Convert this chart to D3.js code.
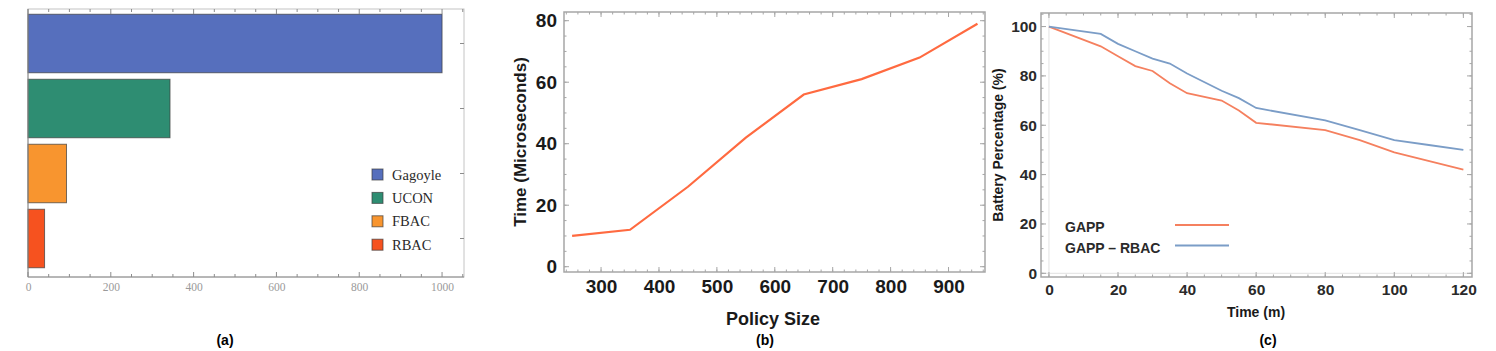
<!DOCTYPE html>
<html>
<head>
<meta charset="utf-8">
<script src="https://cdn.jsdelivr.net/npm/d3@7"></script>
<style>
  body { margin: 0; background: #fff; }
  svg { display: block; }
</style>
</head>
<body>
<div id="vizArea"></div>
<script>
var w = 1496
var h = 351

// DATA ********************************
// (a) cost comparison
var schemes = ["Gagoyle", "UCON", "FBAC", "RBAC"]
var schemeValues = [1000, 343, 93, 40]
var schemeColors = ["#566fbd", "#2e8d72", "#f8952f", "#f6521f"]
var costTicks = [0, 200, 400, 600, 800, 1000]

// (b) policy size vs time
var policySize = [250, 350, 450, 550, 650, 750, 850, 950]
var policyTime = [10, 12, 26, 42, 56, 61, 68, 79]
var policyTicks = [300, 400, 500, 600, 700, 800, 900]
var timeTicks = [0, 20, 40, 60, 80]

// (c) battery over time
var gappTime = [0, 15, 20, 25, 30, 35, 40, 50, 55, 60, 80, 90, 100, 120]
var gappBattery = [100, 92, 88, 84, 82, 77, 73, 70, 66, 61, 58, 54, 49, 42]
var rbacTime = [0, 15, 20, 25, 30, 35, 40, 50, 55, 60, 80, 90, 100, 110, 120]
var rbacBattery = [100, 97, 93, 90, 87, 85, 81, 74, 71, 67, 62, 58, 54, 52, 50]
var minuteTicks = [0, 20, 40, 60, 80, 100, 120]
var batteryTicks = [0, 20, 40, 60, 80, 100]

var svg = d3.select("#vizArea").append("svg")
    .attr("width", w)
    .attr("height", h)

var frameColor = "#a6a6a6"
var boldFont = "'Liberation Sans', Arial, sans-serif"

// draws mathematica-like ticks on all four sides of a frame
function frameTicks(g, x, y, xMajor, xMinorStep, yMajor, yMinorStep, box) {
    var xd = x.domain(), yd = y.domain()
    var xMinor = d3.range(Math.ceil(xd[0] / xMinorStep) * xMinorStep, xd[1], xMinorStep)
    var yMinor = d3.range(Math.ceil(yd[0] / yMinorStep) * yMinorStep, yd[1], yMinorStep)
    var marks = []
    xMinor.forEach(function(v){ marks.push({ax: "x", v: v, len: 2.5}) })
    xMajor.forEach(function(v){ marks.push({ax: "x", v: v, len: 5}) })
    yMinor.forEach(function(v){ marks.push({ax: "y", v: v, len: 2.5}) })
    yMajor.forEach(function(v){ marks.push({ax: "y", v: v, len: 5}) })
    marks.forEach(function(m){
        if (m.ax == "x") {
            var px = x(m.v)
            g.append("line").attr("x1", px).attr("x2", px)
                .attr("y1", box.bottom).attr("y2", box.bottom - m.len)
            g.append("line").attr("x1", px).attr("x2", px)
                .attr("y1", box.top).attr("y2", box.top + m.len)
        } else {
            var py = y(m.v)
            g.append("line").attr("y1", py).attr("y2", py)
                .attr("x1", box.left).attr("x2", box.left + m.len)
            g.append("line").attr("y1", py).attr("y2", py)
                .attr("x1", box.right).attr("x2", box.right - m.len)
        }
    })
    g.selectAll("line").attr("stroke", frameColor).attr("stroke-width", 1)
}

// PANEL (a) *********************************
var boxA = {left: 28, right: 464, top: 9, bottom: 277}
var xA = d3.scaleLinear().domain([0, 1053]).range([boxA.left, boxA.right])
var yA = d3.scaleBand().domain(schemes).range([11, 271]).paddingInner(0.1).paddingOuter(0.05)
var gA = svg.append("g")

gA.append("rect")
    .attr("x", boxA.left).attr("y", boxA.top)
    .attr("width", boxA.right - boxA.left).attr("height", boxA.bottom - boxA.top)
    .attr("fill", "none").attr("stroke", "#c4c4c4")

gA.selectAll(".bar")
    .data(schemes)
    .enter()
    .append("rect")
    .attr("class", "bar")
    .attr("x", xA(0))
    .attr("y", function(d){ return yA(d) })
    .attr("width", function(d, i){ return xA(schemeValues[i]) - xA(0) })
    .attr("height", yA.bandwidth())
    .attr("fill", function(d, i){ return schemeColors[i] })
    .attr("stroke", "#3c3c3c")
    .attr("stroke-opacity", 0.7)
    .attr("stroke-width", 1)

// tick marks for (a)
var tA = gA.append("g")
d3.range(0, 1051, 50).forEach(function(v){
    var len = (v % 200 == 0) ? 5 : 3
    tA.append("line").attr("x1", xA(v)).attr("x2", xA(v))
        .attr("y1", boxA.bottom).attr("y2", boxA.bottom - len)
    tA.append("line").attr("x1", xA(v)).attr("x2", xA(v))
        .attr("y1", boxA.top).attr("y2", boxA.top + len)
})
schemes.forEach(function(d){
    var py = yA(d) + yA.bandwidth() / 2
    tA.append("line").attr("y1", py).attr("y2", py)
        .attr("x1", boxA.right).attr("x2", boxA.right - 4)
})
tA.selectAll("line").attr("stroke", "#8c8c8c")

gA.append("line")
    .attr("x1", boxA.left).attr("x2", boxA.right)
    .attr("y1", boxA.bottom).attr("y2", boxA.bottom)
    .attr("stroke", "#8c8c8c")
gA.append("line")
    .attr("x1", boxA.left).attr("x2", boxA.left)
    .attr("y1", boxA.top).attr("y2", boxA.bottom)
    .attr("stroke", "#8c8c8c")

var axA = gA.append("g")
    .attr("transform", "translate(0," + boxA.bottom + ")")
    .call(d3.axisBottom(xA).tickValues(costTicks).tickFormat(d3.format("d")).tickSize(0).tickPadding(6))
axA.select(".domain").remove()
axA.selectAll("text")
    .style("font-family", "'Liberation Serif', 'DejaVu Serif', serif")
    .style("font-size", "11.5px")
    .attr("fill", "#9a9a9a")

// legend (a)
var legA = gA.selectAll(".legA")
    .data(schemes)
    .enter()
    .append("g")
    .attr("transform", function(d, i){ return "translate(372," + (169 + i * 23.4) + ")" })
legA.append("rect")
    .attr("width", 11).attr("height", 11)
    .attr("fill", function(d, i){ return schemeColors[i] })
    .attr("stroke", "#3c3c3c").attr("stroke-opacity", 0.7)
legA.append("text")
    .attr("x", 20).attr("y", 10.5)
    .text(function(d){ return d })
    .style("font-family", "'Liberation Serif', 'DejaVu Serif', serif")
    .style("font-size", "14.5px")
    .attr("fill", "#2a2a2a")

svg.append("text").attr("x", 225).attr("y", 345)
    .attr("text-anchor", "middle")
    .style("font-family", boldFont).style("font-weight", "bold").style("font-size", "14px")
    .text("(a)")

// PANEL (b) *********************************
var boxB = {left: 564, right: 985, top: 12, bottom: 272}
var xB = d3.scaleLinear().domain([236, 963]).range([boxB.left, boxB.right])
var yB = d3.scaleLinear().domain([-1.72, 82.83]).range([boxB.bottom, boxB.top])
var gB = svg.append("g")

gB.append("rect")
    .attr("x", boxB.left).attr("y", boxB.top)
    .attr("width", boxB.right - boxB.left).attr("height", boxB.bottom - boxB.top)
    .attr("fill", "none").attr("stroke", frameColor).attr("stroke-width", 1.5)
frameTicks(gB.append("g"), xB, yB, policyTicks, 20, timeTicks, 5, boxB)

var axBx = gB.append("g")
    .attr("transform", "translate(0," + boxB.bottom + ")")
    .call(d3.axisBottom(xB).tickValues(policyTicks).tickSize(0).tickPadding(8))
var axBy = gB.append("g")
    .attr("transform", "translate(" + boxB.left + ",0)")
    .call(d3.axisLeft(yB).tickValues(timeTicks).tickSize(0).tickPadding(7))
gB.selectAll(".domain").remove()
gB.selectAll(".tick text")
    .style("font-family", boldFont).style("font-weight", "bold")
    .style("font-size", "19px").attr("fill", "#1a1a1a")

var policyLine = d3.line()
    .x(function(d){ return xB(d[0]) })
    .y(function(d){ return yB(d[1]) })
gB.append("path")
    .datum(d3.zip(policySize, policyTime))
    .attr("d", policyLine)
    .attr("fill", "none")
    .attr("stroke", "#ff6a40")
    .attr("stroke-width", 2.2)

gB.append("text")
    .attr("transform", "translate(526,142) rotate(-90)")
    .attr("text-anchor", "middle")
    .style("font-family", boldFont).style("font-weight", "bold").style("font-size", "17px")
    .attr("fill", "#1a1a1a")
    .text("Time (Microseconds)")
gB.append("text").attr("x", 773).attr("y", 325)
    .attr("text-anchor", "middle")
    .style("font-family", boldFont).style("font-weight", "bold").style("font-size", "18px")
    .attr("fill", "#1a1a1a")
    .text("Policy Size")
svg.append("text").attr("x", 765).attr("y", 345)
    .attr("text-anchor", "middle")
    .style("font-family", boldFont).style("font-weight", "bold").style("font-size", "14px")
    .text("(b)")

// PANEL (c) *********************************
var boxC = {left: 1041, right: 1472, top: 13, bottom: 277}
var xC = d3.scaleLinear().domain([-2.3, 122.5]).range([boxC.left, boxC.right])
var yC = d3.scaleLinear().domain([-1.5, 105.5]).range([boxC.bottom, boxC.top])
var gC = svg.append("g")

// faint axes through origin
gC.append("line").attr("x1", xC(0)).attr("x2", xC(0))
    .attr("y1", boxC.top).attr("y2", boxC.bottom)
    .attr("stroke", "#e2e2e2")
gC.append("line").attr("x1", boxC.left).attr("x2", boxC.right)
    .attr("y1", yC(0)).attr("y2", yC(0))
    .attr("stroke", "#e2e2e2")

gC.append("rect")
    .attr("x", boxC.left).attr("y", boxC.top)
    .attr("width", boxC.right - boxC.left).attr("height", boxC.bottom - boxC.top)
    .attr("fill", "none").attr("stroke", frameColor).attr("stroke-width", 1.5)
frameTicks(gC.append("g"), xC, yC, minuteTicks, 5, batteryTicks, 5, boxC)

gC.append("g")
    .attr("transform", "translate(0," + boxC.bottom + ")")
    .call(d3.axisBottom(xC).tickValues(minuteTicks).tickSize(0).tickPadding(7))
gC.append("g")
    .attr("transform", "translate(" + boxC.left + ",0)")
    .call(d3.axisLeft(yC).tickValues(batteryTicks).tickSize(0).tickPadding(4))
gC.selectAll(".domain").remove()
gC.selectAll(".tick text")
    .style("font-family", boldFont).style("font-weight", "bold")
    .style("font-size", "15.5px").attr("fill", "#2a2a2a")

var batteryLine = d3.line()
    .x(function(d){ return xC(d[0]) })
    .y(function(d){ return yC(d[1]) })
var seriesC = [
    {name: "GAPP", pts: d3.zip(gappTime, gappBattery), color: "#f5805f"},
    {name: "GAPP \u2013 RBAC", pts: d3.zip(rbacTime, rbacBattery), color: "#7b9dc7"}
]
gC.selectAll(".series")
    .data(seriesC)
    .enter()
    .append("path")
    .attr("d", function(d){ return batteryLine(d.pts) })
    .attr("fill", "none")
    .attr("stroke", function(d){ return d.color })
    .attr("stroke-width", 1.8)

var legC = gC.selectAll(".legC")
    .data(seriesC)
    .enter()
    .append("g")
    .attr("transform", function(d, i){ return "translate(1065," + (227 + i * 20.5) + ")" })
legC.append("text")
    .attr("y", 5)
    .text(function(d){ return d.name })
    .style("font-family", boldFont).style("font-weight", "bold").style("font-size", "14px")
    .attr("fill", "#2a2a2a")
legC.append("line")
    .attr("x1", 110).attr("x2", 164)
    .attr("y1", -2).attr("y2", -2)
    .attr("stroke", function(d){ return d.color })
    .attr("stroke-width", 1.8)

gC.append("text")
    .attr("transform", "translate(1003,145) rotate(-90)")
    .attr("text-anchor", "middle")
    .style("font-family", boldFont).style("font-weight", "bold").style("font-size", "14px")
    .attr("fill", "#1a1a1a")
    .text("Battery Percentage (%)")
gC.append("text").attr("x", 1256).attr("y", 317)
    .attr("text-anchor", "middle")
    .style("font-family", boldFont).style("font-weight", "bold").style("font-size", "14px")
    .attr("fill", "#1a1a1a")
    .text("Time (m)")
svg.append("text").attr("x", 1268).attr("y", 345)
    .attr("text-anchor", "middle")
    .style("font-family", boldFont).style("font-weight", "bold").style("font-size", "14px")
    .text("(c)")
</script>
</body>
</html>
